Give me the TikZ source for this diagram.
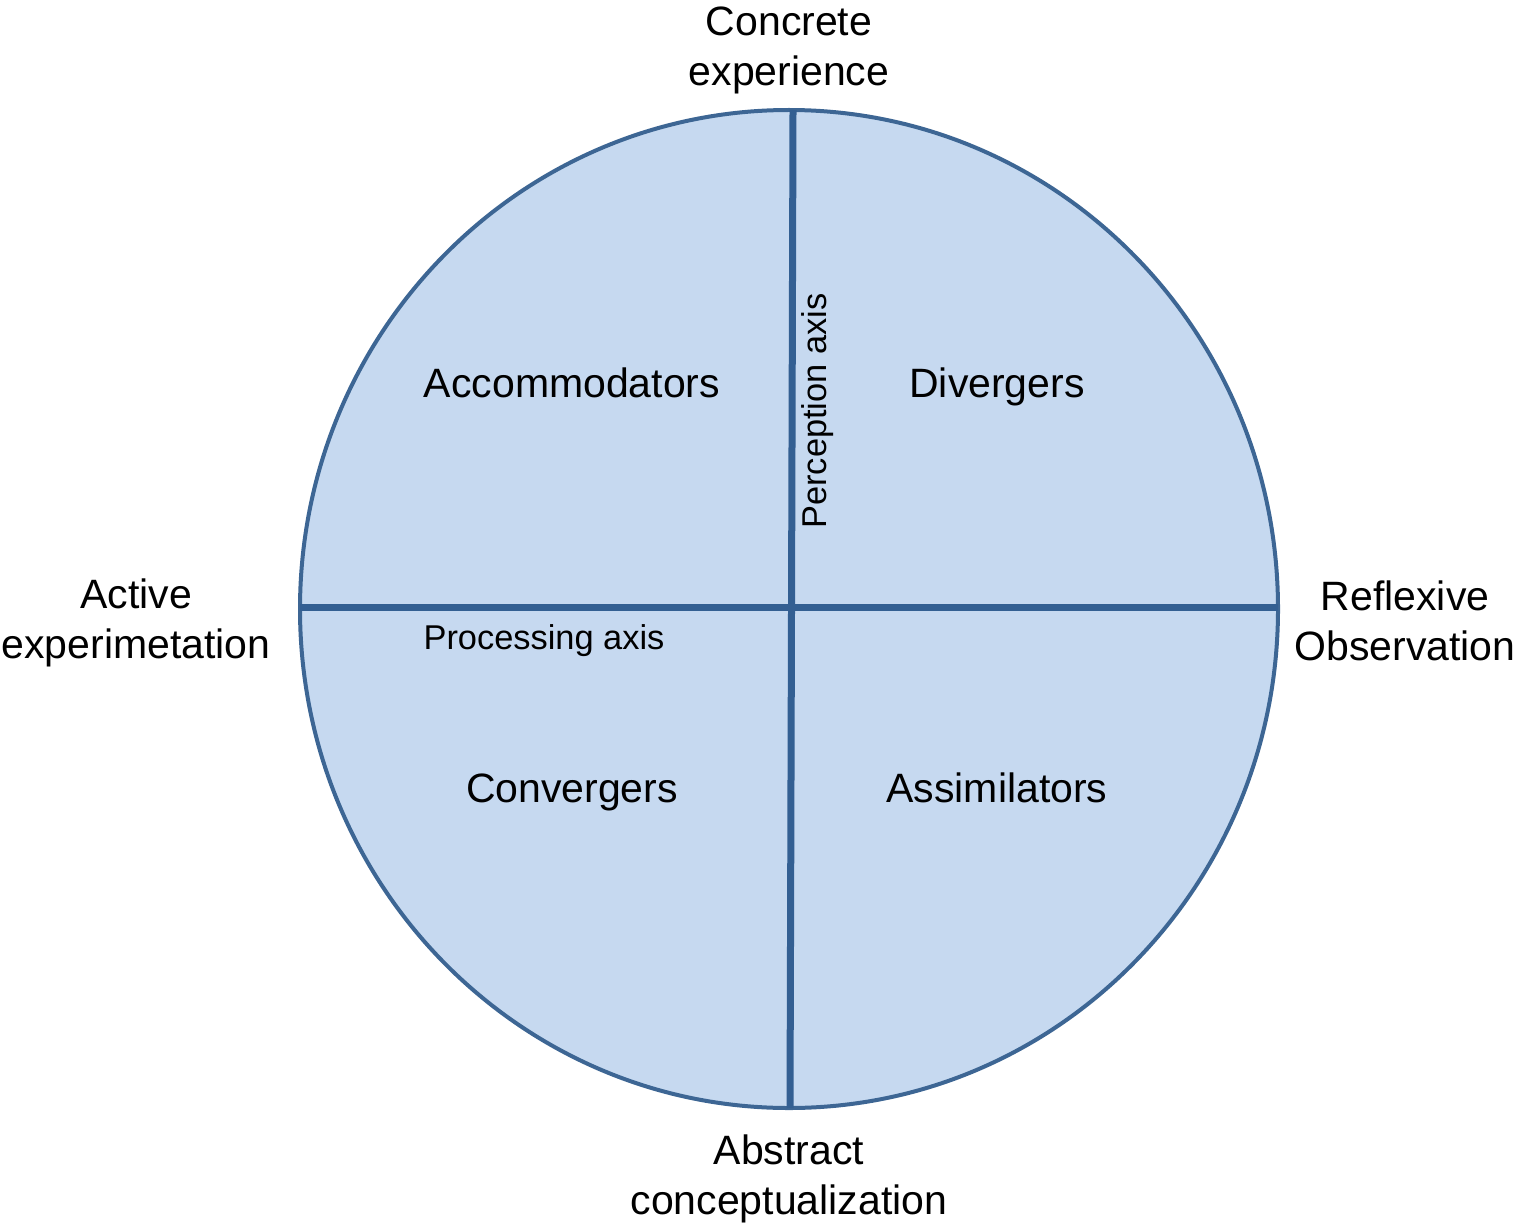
\documentclass[tikz,border=0pt]{standalone}
\usepackage{fontspec}
\setmainfont{Liberation Sans}
\definecolor{quadfill}{HTML}{C6D9F0}
\definecolor{rimblue}{HTML}{3D6694}
\definecolor{axisblue}{HTML}{335F92}
\begin{document}
\begin{tikzpicture}[x=0.5pt,y=-0.5pt,
	rim/.style={draw=rimblue,line width=2pt,fill=quadfill},
	axisline/.style={draw=axisblue,line width=3.5pt},
	pole/.style={align=center,inner sep=0pt,font=\fontsize{20.5}{25}\selectfont},
	style name/.style={inner sep=0pt,text height=0.72em,text depth=0.21em,font=\fontsize{20.5}{25}\selectfont},
	axis name/.style={inner sep=0pt,text height=0.72em,text depth=0.21em,font=\fontsize{17.2}{21}\selectfont}]
	\useasboundingbox (0,0) rectangle (1518,1225);
	% the learning circle
	\draw[rim] (789,609) ellipse [x radius=489, y radius=499];
	\coordinate (top) at (793,110);
	\coordinate (bottom) at (790,1108);
	\coordinate (left) at (300,607);
	\coordinate (right) at (1278,607);
	\draw[axisline] (top) -- (bottom);
	\draw[axisline] (left) -- (right);
	% quadrants
	\node[style name] (acc) at (572,392) {Accommodators};
	\node[style name] (div) at (997,392) {Divergers};
	\node[style name] (con) at (572,797) {Convergers};
	\node[style name] (ass) at (997,797) {Assimilators};
	% axes
	\node[axis name] (proc) at (544,644) {Processing axis};
	\node[axis name,rotate=90] (perc) at (821,411) {Perception axis};
	% poles
	\node[pole] (ce) at (789,50) {Concrete\\experience};
	\node[pole] (ac) at (789,1179) {Abstract\\conceptualization};
	\node[pole] (ae) at (136,623) {Active\\experimetation};
	\node[pole] (ro) at (1405,621) {Reflexive\\Observation};
\end{tikzpicture}
\end{document}
